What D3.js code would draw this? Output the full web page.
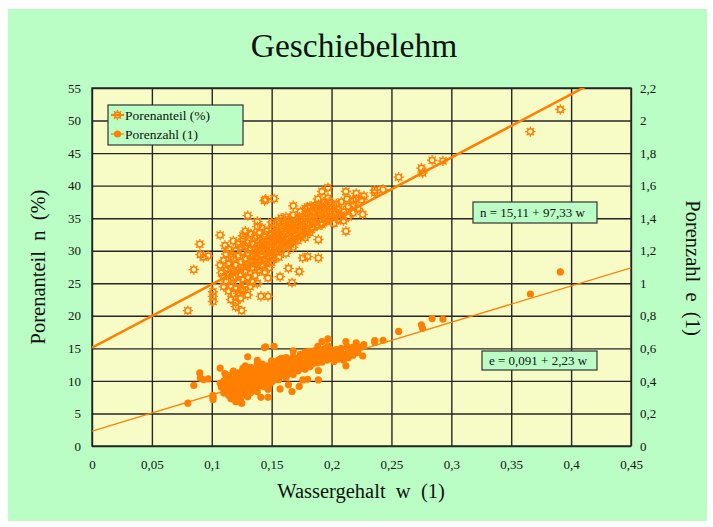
<!DOCTYPE html>
<html>
<head>
<meta charset="utf-8">
<script src="https://cdn.jsdelivr.net/npm/d3@7"></script>
<style>
  body { margin: 0; background: #ffffff; }
  svg { display: block; }
  text { font-family: "Liberation Serif", "Times New Roman", serif; fill: #111; white-space: pre; }
</style>
</head>
<body>
<svg id="chart" width="713" height="527"></svg>
<script>
// Porenanteil n (%) against Wassergehalt w (1)
const porosityPoints = [
  [0.080,20.8],[0.085,27.1],[0.090,31.0],[0.0905,29.4],[0.093,29.0],[0.097,29.2],
  [0.101,23.7],[0.101,23.0],[0.101,22.2],[0.107,32.4],[0.107,27.8],[0.108,26.6],
  [0.111,30.8],[0.120,21.4],[0.125,20.8],[0.126,32.3],[0.130,35.4],[0.133,32.5],
  [0.138,34.5],[0.138,33.7],[0.144,37.7],[0.145,37.9],[0.152,38.0],[0.150,34.4],
  [0.147,25.8],[0.157,26.0],[0.167,25.1],[0.173,26.8],[0.168,36.9],[0.180,36.7],
  [0.180,29.1],[0.176,28.9],[0.189,28.9],[0.189,37.1],[0.1886,37.95],[0.192,39.1],
  [0.197,39.7],[0.197,38.1],[0.212,39.1],[0.213,37.95],[0.218,37.8],[0.2206,38.8],
  [0.2206,37.95],[0.225,37.8],[0.227,38.4],[0.236,39.3],[0.236,38.9],[0.243,39.4],
  [0.256,41.3],[0.275,42.7],[0.276,41.95],[0.284,43.9],[0.293,43.8],[0.366,48.3],
  [0.391,51.7],[0.212,33.0],[0.147,23.0],[0.141,23.0],[0.164,27.3],[0.189,31.7],
  [0.110,28.5],[0.110,26.0],[0.110,24.5],
  [0.112,29.5],[0.112,25.2],[0.112,27.0],
  [0.114,30.2],[0.114,23.8],[0.114,26.5],[0.114,28.0],
  [0.116,24.6],[0.116,27.3],[0.116,29.0],[0.116,22.5],
  [0.118,25.8],[0.118,28.7],[0.118,31.5],[0.118,23.4],[0.118,26.9],
  [0.120,27.8],[0.120,24.2],[0.120,30.0],[0.120,22.0],[0.120,26.0],
  [0.122,29.3],[0.122,25.1],[0.122,27.0],[0.122,23.5],[0.122,31.0],
  [0.124,28.2],[0.124,26.4],[0.124,24.0],[0.124,30.5],[0.124,22.7],
  [0.126,27.5],[0.126,29.8],[0.126,25.5],[0.126,31.8],[0.126,23.9],
  [0.128,28.8],[0.128,26.8],[0.128,30.7],[0.128,24.8],[0.128,33.0],
  [0.130,27.9],[0.130,29.5],[0.130,25.9],[0.130,31.2],[0.130,23.2],
  [0.132,28.4],[0.132,30.1],[0.132,26.6],[0.132,32.6],[0.132,24.5],
  [0.134,29.2],[0.134,27.4],[0.134,31.0],[0.134,25.2],[0.134,28.3],
  [0.136,30.4],[0.136,28.0],[0.136,26.2],[0.136,32.0],[0.136,29.6],
  [0.138,29.0],[0.138,31.5],[0.138,27.5],[0.138,30.0],[0.138,25.0],
  [0.140,30.8],[0.140,28.6],[0.140,32.8],[0.140,27.0],[0.140,29.9],
  [0.142,31.3],[0.142,29.2],[0.142,27.8],[0.142,33.5],[0.142,30.3],
  [0.144,30.0],[0.144,32.2],[0.144,28.4],[0.144,26.7],[0.144,31.0],
  [0.146,31.7],[0.146,29.7],[0.146,33.0],[0.146,28.0],[0.146,30.6],
  [0.148,30.2],[0.148,32.5],[0.148,29.0],[0.148,31.4],[0.148,27.4],
  [0.150,31.9],[0.150,30.5],[0.150,33.4],[0.150,29.3],[0.150,28.2],
  [0.152,32.3],[0.152,30.0],[0.152,34.0],[0.152,31.2],[0.152,28.8],
  [0.154,31.6],[0.154,33.2],[0.154,29.8],[0.154,32.8],[0.154,30.7],
  [0.156,32.6],[0.156,30.9],[0.156,34.6],[0.156,29.0],[0.156,31.9],
  [0.158,33.4],[0.158,31.3],[0.158,32.2],[0.158,35.0],[0.158,30.2],
  [0.160,32.0],[0.160,33.8],[0.160,30.6],[0.160,34.4],[0.160,31.5],
  [0.162,33.0],[0.162,31.8],[0.162,35.2],[0.162,32.5],[0.162,29.6],
  [0.164,33.6],[0.164,32.0],[0.164,34.8],[0.164,30.8],[0.164,31.2],
  [0.166,32.8],[0.166,34.2],[0.166,31.0],[0.166,33.3],
  [0.168,33.9],[0.168,32.3],[0.168,35.5],[0.168,30.5],
  [0.170,34.4],[0.170,32.7],[0.170,33.5],[0.170,31.8],
  [0.172,33.2],[0.172,35.0],[0.172,31.6],[0.172,34.0],
  [0.174,34.8],[0.174,33.0],[0.174,32.2],[0.174,36.0],
  [0.176,33.7],[0.176,35.3],[0.176,32.4],[0.176,34.5],
  [0.178,35.0],[0.178,33.4],[0.178,36.5],[0.178,32.0],
  [0.180,34.2],[0.180,35.7],[0.180,33.0],
  [0.182,35.4],[0.182,34.0],[0.182,36.8],[0.182,32.8],
  [0.184,34.6],[0.184,36.0],[0.184,33.6],
  [0.186,35.8],[0.186,34.3],[0.186,37.0],
  [0.188,35.0],[0.188,36.5],[0.188,33.8],
  [0.190,36.2],[0.190,34.8],[0.190,35.6],
  [0.192,35.3],[0.192,36.8],[0.192,34.0],
  [0.194,36.4],[0.194,35.0],[0.194,37.4],
  [0.196,35.7],[0.196,34.5],[0.196,36.9],
  [0.198,36.0],[0.198,37.5],[0.198,34.9],
  [0.200,35.2],[0.200,36.6],
  [0.202,36.9],[0.202,35.6],[0.202,34.2],
  [0.204,37.2],[0.204,35.9],
  [0.206,36.3],[0.206,34.8],
  [0.208,37.5],[0.208,35.5],
  [0.210,36.0],[0.210,34.6],
  [0.214,36.8],[0.214,35.2],
  [0.218,35.8],[0.218,37.0],
  [0.222,36.5],
  [0.226,35.6]
];

// Porenzahl e (1) against Wassergehalt w (1)
const voidRatioPoints = [
  [0.080,0.263],[0.085,0.372],[0.090,0.449],[0.0905,0.416],[0.093,0.408],[0.097,0.412],
  [0.101,0.311],[0.101,0.299],[0.101,0.285],[0.107,0.479],[0.107,0.385],[0.108,0.362],
  [0.111,0.445],[0.120,0.272],[0.125,0.263],[0.126,0.477],[0.130,0.548],[0.133,0.481],
  [0.138,0.527],[0.138,0.508],[0.144,0.605],[0.145,0.610],[0.152,0.613],[0.150,0.524],
  [0.147,0.348],[0.157,0.351],[0.167,0.335],[0.173,0.366],[0.168,0.585],[0.180,0.580],
  [0.180,0.410],[0.176,0.406],[0.189,0.406],[0.189,0.590],[0.1886,0.612],[0.192,0.642],
  [0.197,0.658],[0.197,0.616],[0.212,0.642],[0.213,0.612],[0.218,0.608],[0.2206,0.634],
  [0.2206,0.612],[0.225,0.608],[0.227,0.623],[0.236,0.647],[0.236,0.637],[0.243,0.650],
  [0.256,0.704],[0.275,0.745],[0.276,0.723],[0.284,0.783],[0.293,0.779],[0.366,0.934],
  [0.391,1.070],[0.212,0.493],[0.147,0.299],[0.141,0.299],[0.164,0.376],[0.189,0.464],
  [0.110,0.399],[0.110,0.351],[0.110,0.325],
  [0.112,0.418],[0.112,0.337],[0.112,0.370],
  [0.114,0.433],[0.114,0.312],[0.114,0.361],[0.114,0.389],
  [0.116,0.326],[0.116,0.376],[0.116,0.408],[0.116,0.290],
  [0.118,0.348],[0.118,0.403],[0.118,0.460],[0.118,0.305],[0.118,0.368],
  [0.120,0.385],[0.120,0.319],[0.120,0.429],[0.120,0.282],[0.120,0.351],
  [0.122,0.414],[0.122,0.335],[0.122,0.370],[0.122,0.307],[0.122,0.449],
  [0.124,0.393],[0.124,0.359],[0.124,0.316],[0.124,0.439],[0.124,0.294],
  [0.126,0.379],[0.126,0.425],[0.126,0.342],[0.126,0.466],[0.126,0.314],
  [0.128,0.404],[0.128,0.366],[0.128,0.443],[0.128,0.330],[0.128,0.493],
  [0.130,0.387],[0.130,0.418],[0.130,0.350],[0.130,0.453],[0.130,0.302],
  [0.132,0.397],[0.132,0.431],[0.132,0.362],[0.132,0.484],[0.132,0.325],
  [0.134,0.412],[0.134,0.377],[0.134,0.449],[0.134,0.337],[0.134,0.395],
  [0.136,0.437],[0.136,0.389],[0.136,0.355],[0.136,0.471],[0.136,0.420],
  [0.138,0.408],[0.138,0.460],[0.138,0.379],[0.138,0.429],[0.138,0.333],
  [0.140,0.445],[0.140,0.401],[0.140,0.488],[0.140,0.370],[0.140,0.427],
  [0.142,0.456],[0.142,0.412],[0.142,0.385],[0.142,0.504],[0.142,0.435],
  [0.144,0.429],[0.144,0.475],[0.144,0.397],[0.144,0.364],[0.144,0.449],
  [0.146,0.464],[0.146,0.422],[0.146,0.493],[0.146,0.389],[0.146,0.441],
  [0.148,0.433],[0.148,0.481],[0.148,0.408],[0.148,0.458],[0.148,0.377],
  [0.150,0.468],[0.150,0.439],[0.150,0.502],[0.150,0.414],[0.150,0.393],
  [0.152,0.477],[0.152,0.429],[0.152,0.515],[0.152,0.453],[0.152,0.404],
  [0.154,0.462],[0.154,0.497],[0.154,0.425],[0.154,0.488],[0.154,0.443],
  [0.156,0.484],[0.156,0.447],[0.156,0.529],[0.156,0.408],[0.156,0.468],
  [0.158,0.502],[0.158,0.456],[0.158,0.475],[0.158,0.538],[0.158,0.433],
  [0.160,0.471],[0.160,0.511],[0.160,0.441],[0.160,0.524],[0.160,0.460],
  [0.162,0.493],[0.162,0.466],[0.162,0.543],[0.162,0.481],[0.162,0.420],
  [0.164,0.506],[0.164,0.471],[0.164,0.534],[0.164,0.445],[0.164,0.453],
  [0.166,0.488],[0.166,0.520],[0.166,0.449],[0.166,0.499],
  [0.168,0.513],[0.168,0.477],[0.168,0.550],[0.168,0.439],
  [0.170,0.524],[0.170,0.486],[0.170,0.504],[0.170,0.466],
  [0.172,0.497],[0.172,0.538],[0.172,0.462],[0.172,0.515],
  [0.174,0.534],[0.174,0.493],[0.174,0.475],[0.174,0.563],
  [0.176,0.508],[0.176,0.546],[0.176,0.479],[0.176,0.527],
  [0.178,0.538],[0.178,0.502],[0.178,0.575],[0.178,0.471],
  [0.180,0.520],[0.180,0.555],[0.180,0.493],
  [0.182,0.548],[0.182,0.515],[0.182,0.582],[0.182,0.488],
  [0.184,0.529],[0.184,0.563],[0.184,0.506],
  [0.186,0.558],[0.186,0.522],[0.186,0.587],
  [0.188,0.538],[0.188,0.575],[0.188,0.511],
  [0.190,0.567],[0.190,0.534],[0.190,0.553],
  [0.192,0.546],[0.192,0.582],[0.192,0.515],
  [0.194,0.572],[0.194,0.538],[0.194,0.597],
  [0.196,0.555],[0.196,0.527],[0.196,0.585],
  [0.198,0.563],[0.198,0.600],[0.198,0.536],
  [0.200,0.543],[0.200,0.577],
  [0.202,0.585],[0.202,0.553],[0.202,0.520],
  [0.204,0.592],[0.204,0.560],
  [0.206,0.570],[0.206,0.534],
  [0.208,0.600],[0.208,0.550],
  [0.210,0.563],[0.210,0.529],
  [0.214,0.582],[0.214,0.543],
  [0.218,0.558],[0.218,0.587],
  [0.222,0.575],
  [0.226,0.553]
];

// Regression lines as stated in the equation boxes
const porosityFit = { intercept: 15.11, slope: 97.33 };
const voidRatioFit = { intercept: 0.091, slope: 2.23 };
const equationLabels = ["n = 15,11 + 97,33 w", "e = 0,091 + 2,23 w"];

const seriesNames = ["Porenanteil (%)", "Porenzahl (1)"];

const xTicks = [0, 0.05, 0.1, 0.15, 0.2, 0.25, 0.3, 0.35, 0.4, 0.45];
const xTickLabels = ["0", "0,05", "0,1", "0,15", "0,2", "0,25", "0,3", "0,35", "0,4", "0,45"];
const leftTicks = [0, 5, 10, 15, 20, 25, 30, 35, 40, 45, 50, 55];
const leftTickLabels = ["0", "5", "10", "15", "20", "25", "30", "35", "40", "45", "50", "55"];
const rightTicks = [0, 0.2, 0.4, 0.6, 0.8, 1.0, 1.2, 1.4, 1.6, 1.8, 2.0, 2.2];
const rightTickLabels = ["0", "0,2", "0,4", "0,6", "0,8", "1", "1,2", "1,4", "1,6", "1,8", "2", "2,2"];

// ---- layout ----
const plot = { left: 92, right: 631, top: 88, bottom: 446 };
const ORANGE = "#ff8000";
const BG = "#bbfec5";
const PLOT_BG = "#f7fbc6";
const GRID = "#262626";
const SERIF = "'Liberation Serif', 'Times New Roman', serif";

const svg = d3.select("#chart");

svg.append("rect").attr("x", 8).attr("y", 9).attr("width", 699).attr("height", 512).attr("fill", BG);
svg.append("rect")
  .attr("x", plot.left).attr("y", plot.top)
  .attr("width", plot.right - plot.left).attr("height", plot.bottom - plot.top)
  .attr("fill", PLOT_BG);

const x = d3.scaleLinear().domain([0, 0.45]).range([plot.left, plot.right]);
const yL = d3.scaleLinear().domain([0, 55]).range([plot.bottom, plot.top]);
const yR = d3.scaleLinear().domain([0, 2.2]).range([plot.bottom, plot.top]);

// grid lines
svg.append("g")
  .attr("transform", `translate(0,${plot.bottom})`)
  .call(d3.axisBottom(x).tickValues(xTicks).tickSize(-(plot.bottom - plot.top)).tickFormat(""))
  .call(g => g.select(".domain").remove())
  .call(g => g.selectAll("line").attr("stroke", GRID).attr("stroke-width", 1.4));
svg.append("g")
  .attr("transform", `translate(${plot.left},0)`)
  .call(d3.axisLeft(yL).tickValues(leftTicks).tickSize(-(plot.right - plot.left)).tickFormat(""))
  .call(g => g.select(".domain").remove())
  .call(g => g.selectAll("line").attr("stroke", GRID).attr("stroke-width", 1.4));

// plot border
svg.append("rect")
  .attr("x", plot.left).attr("y", plot.top)
  .attr("width", plot.right - plot.left).attr("height", plot.bottom - plot.top)
  .attr("fill", "none").attr("stroke", GRID).attr("stroke-width", 1.4);

// tick labels
const styleTicks = g => {
  g.attr("font-family", null).attr("font-size", null);
  g.select(".domain").remove();
  g.selectAll("line").remove();
  g.selectAll("text").style("font-size", "13px").style("font-family", SERIF).style("fill", "#111");
};
svg.append("g")
  .attr("transform", `translate(0,${plot.bottom})`)
  .call(d3.axisBottom(x).tickValues(xTicks).tickSize(0).tickPadding(14).tickFormat((d, i) => xTickLabels[i]))
  .call(styleTicks);
svg.append("g")
  .attr("transform", `translate(${plot.left},0)`)
  .call(d3.axisLeft(yL).tickValues(leftTicks).tickSize(0).tickPadding(11).tickFormat((d, i) => leftTickLabels[i]))
  .call(styleTicks);
svg.append("g")
  .attr("transform", `translate(${plot.right},0)`)
  .call(d3.axisRight(yR).tickValues(rightTicks).tickSize(0).tickPadding(9).tickFormat((d, i) => rightTickLabels[i]))
  .call(styleTicks);

// marker shapes
const defs = svg.append("defs");
defs.append("clipPath").attr("id", "plot-clip")
  .append("rect")
  .attr("x", plot.left).attr("y", plot.top)
  .attr("width", plot.right - plot.left).attr("height", plot.bottom - plot.top);

const sun = defs.append("g").attr("id", "sun-marker");
sun.append("circle").attr("r", 2.9).attr("fill", "none").attr("stroke", ORANGE).attr("stroke-width", 1.6);
const rays = d3.path();
for (let k = 0; k < 8; k++) {
  const a = k * Math.PI / 4;
  rays.moveTo(3.4 * Math.cos(a), 3.4 * Math.sin(a));
  rays.lineTo(5.2 * Math.cos(a), 5.2 * Math.sin(a));
}
sun.append("path").attr("d", rays.toString()).attr("stroke", ORANGE).attr("stroke-width", 1.3).attr("fill", "none");

// scatter: Porenanteil (left axis)
svg.append("g").selectAll("use")
  .data(porosityPoints)
  .join("use")
  .attr("href", "#sun-marker")
  .attr("x", d => x(d[0]))
  .attr("y", d => yL(d[1]));

// scatter: Porenzahl (right axis)
svg.append("g").selectAll("circle")
  .data(voidRatioPoints)
  .join("circle")
  .attr("cx", d => x(d[0]))
  .attr("cy", d => yR(d[1]))
  .attr("r", 3.6)
  .attr("fill", ORANGE);

// regression lines
const fitLine = (fit, yScale) => d3.line()
  .x(w => x(w))
  .y(w => yScale(fit.intercept + fit.slope * w))(x.domain());

const lines = svg.append("g").attr("clip-path", "url(#plot-clip)");
lines.append("path").attr("d", fitLine(porosityFit, yL))
  .attr("stroke", ORANGE).attr("stroke-width", 2.6).attr("fill", "none");
lines.append("path").attr("d", fitLine(voidRatioFit, yR))
  .attr("stroke", ORANGE).attr("stroke-width", 1.3).attr("fill", "none");

// equation boxes
const eqBoxes = [
  { x: 473, y: 202, w: 124, h: 21 },
  { x: 482, y: 351, w: 115, h: 19 }
];
eqBoxes.forEach((b, i) => {
  svg.append("rect").attr("x", b.x).attr("y", b.y).attr("width", b.w).attr("height", b.h)
    .attr("fill", BG).attr("stroke", "#333").attr("stroke-width", 1.2);
  svg.append("text").attr("x", b.x + 7).attr("y", b.y + b.h / 2 + 4.5)
    .attr("font-size", 13).text(equationLabels[i]);
});

// legend
const lg = svg.append("g");
lg.append("rect").attr("x", 108).attr("y", 105).attr("width", 135).attr("height", 40)
  .attr("fill", BG).attr("stroke", "#333").attr("stroke-width", 1.2);
[115, 134].forEach((cy, i) => {
  lg.append("line").attr("x1", 111).attr("x2", 124).attr("y1", cy).attr("y2", cy)
    .attr("stroke", ORANGE).attr("stroke-width", i === 0 ? 2.2 : 1.3);
  if (i === 0) {
    lg.append("use").attr("href", "#sun-marker").attr("x", 117.5).attr("y", cy);
  } else {
    lg.append("circle").attr("cx", 117.5).attr("cy", cy).attr("r", 3.6).attr("fill", ORANGE);
  }
  lg.append("text").attr("x", 125).attr("y", cy + 4.5).attr("font-size", 13.5).text(seriesNames[i]);
});

// titles
svg.append("text").attr("x", 354).attr("y", 57).attr("text-anchor", "middle")
  .attr("font-size", 33.5).text("Geschiebelehm");
svg.append("text").attr("x", 361).attr("y", 498).attr("text-anchor", "middle")
  .attr("font-size", 20.5).text("Wassergehalt  w  (1)");
svg.append("text").attr("transform", "translate(45,267) rotate(-90)").attr("text-anchor", "middle")
  .attr("font-size", 20.5).text("Porenanteil  n  (%)");
svg.append("text").attr("transform", "translate(686,268) rotate(90)").attr("text-anchor", "middle")
  .attr("font-size", 20.5).text("Porenzahl  e  (1)");
</script>
</body>
</html>
